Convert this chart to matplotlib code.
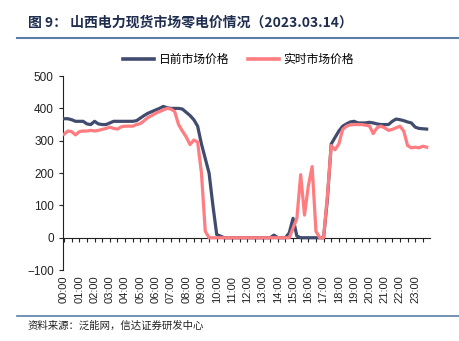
import numpy as np
import matplotlib.pyplot as plt
from matplotlib.lines import Line2D

plt.rcParams['font.family'] = ['Noto Sans CJK SC', 'DejaVu Sans']

# 96 quarter-hour points, 00:00 .. 23:45
times = [f"{h:02d}:{m:02d}" for h in range(24) for m in (0, 15, 30, 45)]

day_ahead = [368, 368, 365, 360, 360, 360, 352, 350, 360, 352, 350, 350, 355, 360, 360, 360,
             360, 360, 360, 362, 370, 378, 385, 390, 395, 400, 406, 402, 400, 400, 400, 398,
             388, 378, 365, 345, 290, 245, 200, 100, 10, 5, 0, 0, 0, 0, 0, 0,
             0, 0, 0, 0, 0, 0, 0, 8, 0, 0, 0, 15, 60, 5, 0, 0, 0, 0,
             0, 0, 0, 120, 290, 310, 330, 345, 352, 358, 360, 355, 355, 355, 357, 355,
             352, 350, 350, 350, 360, 367, 365, 362, 358, 355, 342, 338, 337, 336]

real_time = [320, 330, 328, 318, 328, 330, 330, 332, 330, 332, 335, 338, 342, 338, 336, 343,
             345, 345, 345, 350, 353, 362, 372, 378, 385, 390, 395, 400, 398, 390, 350, 330,
             312, 288, 302, 296, 200, 20, 0, 0, 0, 0, 0, 0, 0, 0, 0, 0,
             0, 0, 0, 0, 0, 0, 0, 0, 0, 0, 0, 0, 30, 60, 195, 70, 160, 220,
             20, 0, 0, 130, 285, 272, 290, 335, 345, 349, 350, 350, 350, 348, 346, 322,
             340, 345, 340, 332, 335, 340, 345, 330, 285, 278, 280, 278, 283, 280]

labels = ['日前市场价格', '实时市场价格']
colors = ['#414B6E', '#FF7C80']
yticks = [-100, 0, 100, 200, 300, 400, 500]

x = np.arange(len(times))

fig = plt.figure(figsize=(4.59, 3.41), dpi=100)
ax = fig.add_axes([0.137, 0.208, 0.80, 0.569])

ax.plot(x, day_ahead, color=colors[0], lw=2.3, zorder=3)
ax.plot(x, real_time, color=colors[1], lw=2.3, zorder=4)

ax.set_xlim(-0.3, 95.9)
ax.set_ylim(-100, 500)
ax.set_yticks(yticks)
ax.tick_params(axis='y', labelsize=8.5, length=3, width=0.8, colors='#222222')

# labels at the bottom, no ticks there
ax.set_xticks(x[::4])
ax.set_xticklabels(times[::4], rotation=90, fontsize=8, color='#222222',
                   family='Liberation Sans')
ax.tick_params(axis='x', length=0, pad=4)
for s in ['top', 'right', 'bottom']:
    ax.spines[s].set_visible(False)
ax.spines['left'].set_color('#222222')
ax.spines['left'].set_linewidth(0.8)
for lab in ax.get_yticklabels():
    lab.set_family('Liberation Sans')

# zero line with ticks
zero = ax.secondary_xaxis(1 / 6)
zero.set_xticks(x[::2])
zero.set_xticklabels([])
zero.tick_params(axis='x', direction='out', length=3, width=0.8, colors='#222222')
zero.spines['bottom'].set_color('#222222')
zero.spines['bottom'].set_linewidth(0.8)

handles = [Line2D([], [], color=c, lw=2.6) for c in colors]
fig.legend(handles, labels, loc='center', bbox_to_anchor=(0.52, 0.825), ncol=2,
           frameon=False, fontsize=8.5, handlelength=2.6, columnspacing=1.6,
           handletextpad=0.4)

fig.text(0.061, 0.935, '图 9： 山西电力现货市场零电价情况（2023.03.14）', fontsize=10,
         fontweight='bold', color='#1F2D4F', va='center')
fig.add_artist(Line2D([0.037, 1.0], [0.888, 0.888], color='#5B7FA8', lw=1.5))
fig.add_artist(Line2D([0.037, 1.0], [0.073, 0.073], color='#5B7FA8', lw=1.2))
fig.text(0.061, 0.046, '资料来源：泛能网，信达证券研发中心', fontsize=7.5,
         style='italic', color='#222222', va='center')

fig.savefig('out.png', dpi=100)
